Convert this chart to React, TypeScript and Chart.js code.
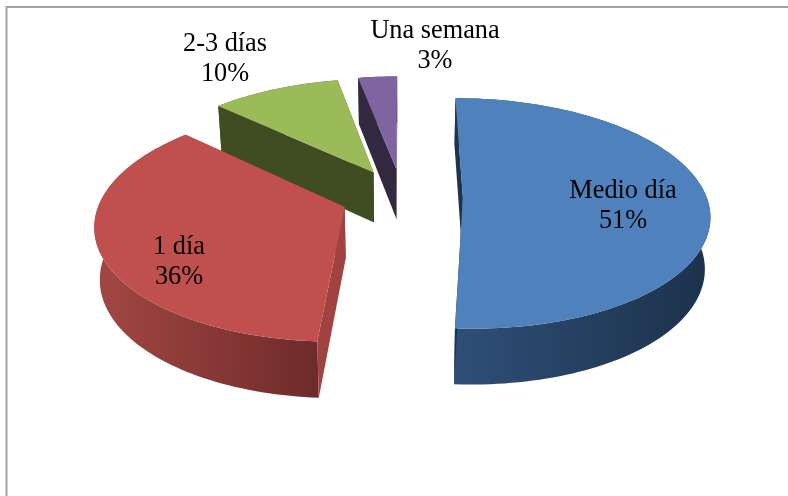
import React, { useEffect, useRef } from "react";
import { Chart, registerables } from "chart.js";

Chart.register(...registerables);

const categories = ["Medio día", "1 día", "2-3 días", "Una semana"];
const percents = [51, 36, 10, 3];

const topColors = ["#4F81BD", "#C0504D", "#9BBB59", "#8064A2"];
const rimLeft = ["#2F4F76", "#A34744", "#5A6C33", "#4A3A5E"];
const rimRight = ["#1C314C", "#6E2B2A", "#3F4B21", "#322840"];
const radialWall = ["#1D3350", "#A04340", "#404C22", "#32283F"];
const labelCentres = [
  [623, 206],
  [179, 262.5],
  [225, 59.5],
  [435, 46],
];

const view = { ox: 402, oy: 196.5, rx: 243.5, ry: 112.8, k: 0.139, depth: 51, depthPow: 0.6, shrink: 0.018, explode: 0.25 };
const paintOrder = [3, 2, 0, 1];

type P = { x: number; y: number };

function project(u: number, v: number, low: boolean): P {
  const w = 1 - view.k * v;
  const x = view.ox + (view.rx * u) / w;
  const y = view.oy + (view.ry * v) / w;
  if (!low) return { x, y };
  return {
    x: view.ox + (x - view.ox) * (1 - view.shrink),
    y: y + view.depth * Math.pow(1 / w, view.depthPow),
  };
}

function trace(ctx: CanvasRenderingContext2D, pts: P[]) {
  ctx.beginPath();
  pts.forEach((p, i) => (i ? ctx.lineTo(p.x, p.y) : ctx.moveTo(p.x, p.y)));
  ctx.closePath();
}

const pie3d = {
  id: "pie3d",
  beforeDraw(chart: any) {
    const ctx: CanvasRenderingContext2D = chart.ctx;
    ctx.save();
    ctx.strokeStyle = "#A3A3A3";
    ctx.lineWidth = 2;
    ctx.beginPath();
    ctx.moveTo(6.5, 496);
    ctx.lineTo(6.5, 7);
    ctx.lineTo(788, 7);
    ctx.stroke();
    ctx.restore();
  },
  beforeDatasetDraw(chart: any, args: any) {
    const ctx: CanvasRenderingContext2D = chart.ctx;
    const arcs = args.meta.data;
    ctx.save();
    for (const i of paintOrder) {
      const { startAngle, endAngle } = arcs[i].getProps(["startAngle", "endAngle"], true);
      const a0 = startAngle + Math.PI / 2;
      const a1 = endAngle + Math.PI / 2;
      const mid = (a0 + a1) / 2;
      const cu = Math.sin(mid) * view.explode;
      const cv = -Math.cos(mid) * view.explode;
      const steps = Math.max(4, Math.ceil(((a1 - a0) * 180) / Math.PI / 1.5));
      const rimHi: P[] = [];
      const rimLo: P[] = [];
      for (let s = 0; s <= steps; s++) {
        const a = a0 + ((a1 - a0) * s) / steps;
        const u = cu + Math.sin(a);
        const v = cv - Math.cos(a);
        rimHi.push(project(u, v, false));
        rimLo.push(project(u, v, true));
      }
      const apexHi = project(cu, cv, false);
      const apexLo = project(cu, cv, true);
      const xs = rimHi.map((p) => p.x);
      const g = ctx.createLinearGradient(Math.min(...xs), 0, Math.max(...xs), 0);
      g.addColorStop(0, rimLeft[i]);
      g.addColorStop(1, rimRight[i]);
      ctx.fillStyle = g;
      trace(ctx, [...rimHi, ...rimLo.slice().reverse()]);
      ctx.fill();
      ctx.fillStyle = radialWall[i];
      trace(ctx, [apexHi, rimHi[0], rimLo[0], apexLo]);
      ctx.fill();
      trace(ctx, [apexHi, rimHi[steps], rimLo[steps], apexLo]);
      ctx.fill();
      ctx.fillStyle = topColors[i];
      trace(ctx, [apexHi, ...rimHi]);
      ctx.fill();
    }
    ctx.restore();
    return false;
  },
  afterDatasetsDraw(chart: any) {
    const ctx: CanvasRenderingContext2D = chart.ctx;
    ctx.save();
    ctx.fillStyle = "#000";
    ctx.font = '26.3px "Liberation Serif"';
    ctx.textAlign = "center";
    ctx.textBaseline = "middle";
    categories.forEach((name, i) => {
      const [x, y] = labelCentres[i];
      ctx.fillText(name, x, y - 15);
      ctx.fillText(`${percents[i]}%`, x, y + 15);
    });
    ctx.restore();
  },
};

export default function App() {
  const ref = useRef<HTMLCanvasElement>(null);
  useEffect(() => {
    const chart = new Chart(ref.current!, {
      type: "pie",
      data: {
        labels: categories,
        datasets: [{ data: percents, backgroundColor: topColors, borderWidth: 0 }],
      },
      options: {
        responsive: false,
        animation: false,
        rotation: 0,
        plugins: { legend: { display: false }, tooltip: { enabled: false } },
      },
      plugins: [pie3d],
    } as any);
    return () => chart.destroy();
  }, []);
  return (
    <div style={{ position: "absolute", left: 0, top: 0, width: 788, height: 496, background: "#fff" }}>
      <canvas ref={ref} width={788} height={496} style={{ display: "block" }} />
    </div>
  );
}
